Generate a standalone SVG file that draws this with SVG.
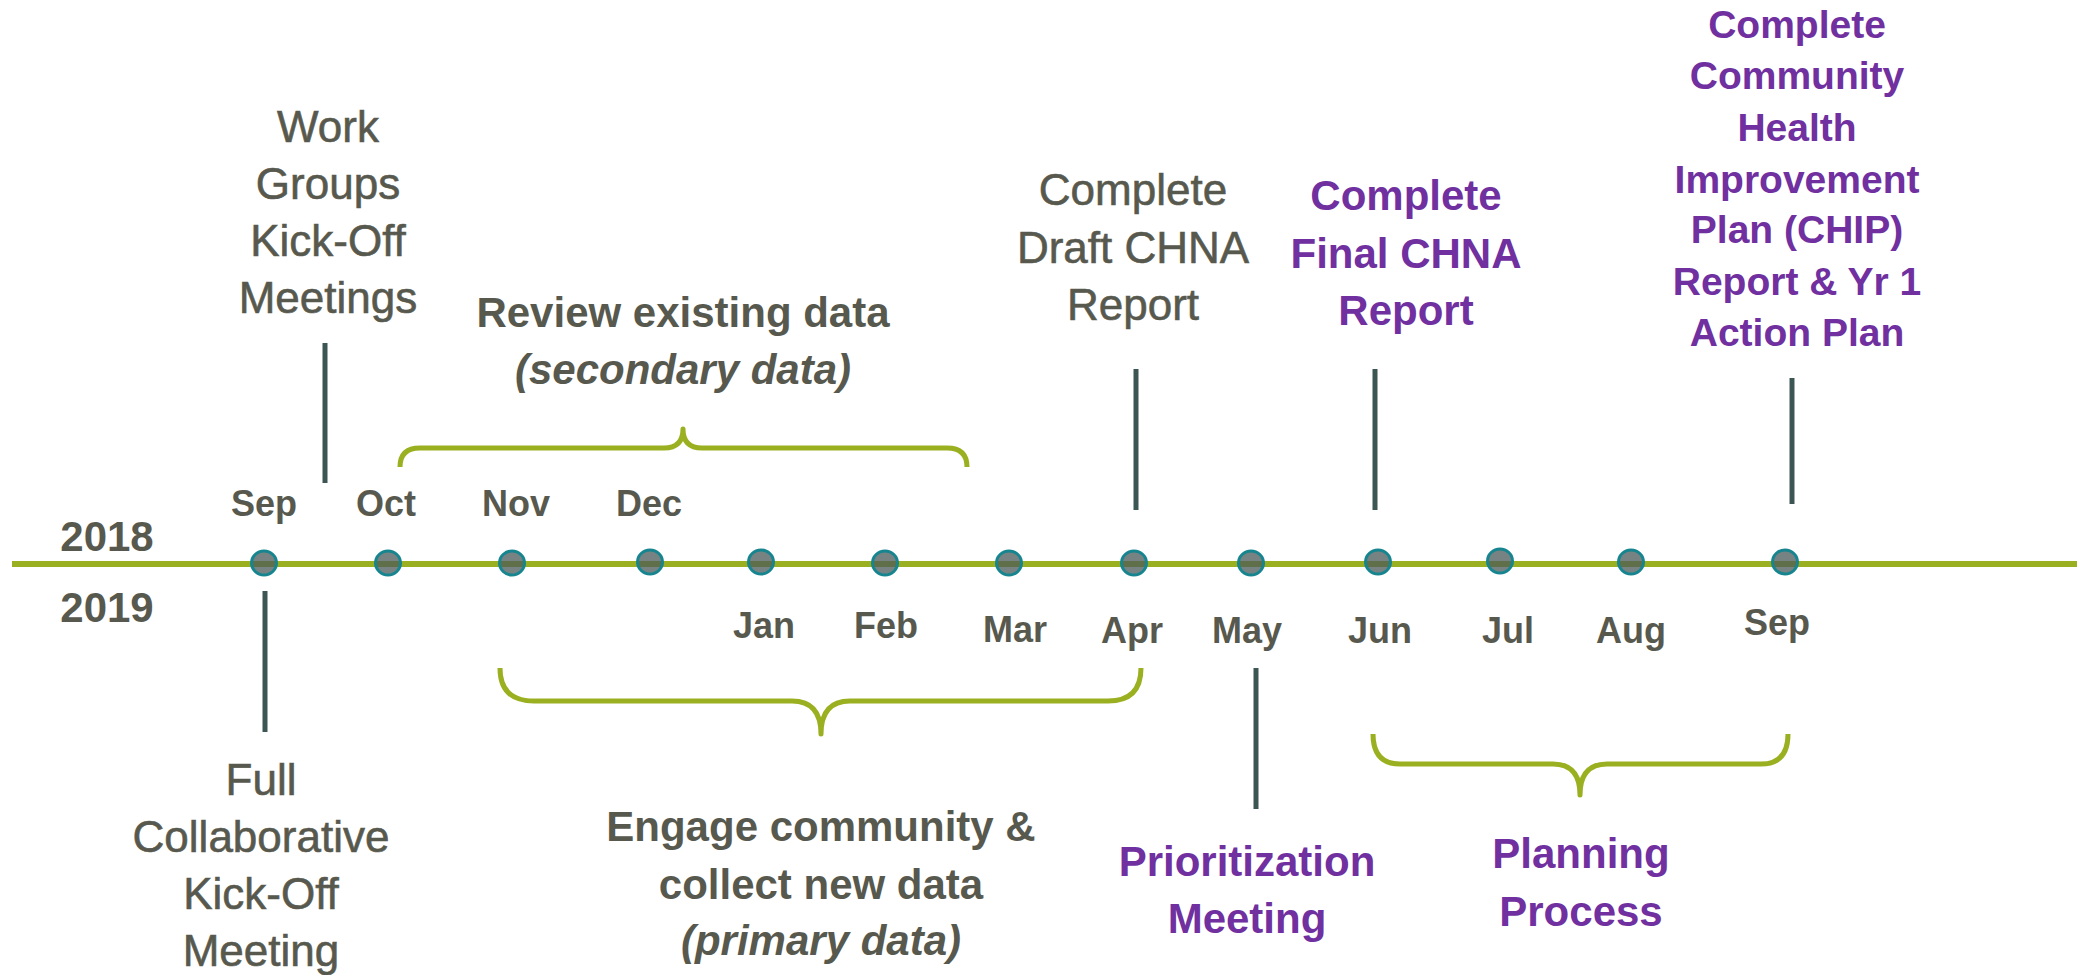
<svg xmlns="http://www.w3.org/2000/svg" width="2077" height="975" viewBox="0 0 2077 975">
<style>
text{font-family:"Liberation Sans",Arial,sans-serif;text-anchor:middle}
.g{fill:#58594e}
.p{fill:#7030a0;font-weight:bold}
.reg{font-size:44px;stroke:#58594e;stroke-width:0.6}
.b{font-weight:bold}
.mo{font-size:36px;font-weight:bold;fill:#58594e}
.yr{font-size:42px;font-weight:bold;fill:#58594e}
.dot{fill:#4a5a58;fill-opacity:0.75;stroke:#16858f;stroke-width:3}
.tick{stroke:#3c5654;stroke-width:5;fill:none}
.brace{stroke:#9bb020;stroke-width:5;fill:none;stroke-linejoin:round}
</style>
<rect width="2077" height="975" fill="#ffffff"/>
<g id="axis">
<line x1="12" y1="564" x2="2077" y2="564" stroke="#9bb020" stroke-width="6"/>
<text class="yr" x="107" y="551">2018</text>
<text class="yr" x="107" y="622">2019</text>
</g>
<g id="markers">
<ellipse class="dot" cx="264" cy="563" rx="12.5" ry="12"/>
<ellipse class="dot" cx="388" cy="563" rx="12.5" ry="12"/>
<ellipse class="dot" cx="512" cy="563" rx="12.5" ry="12"/>
<ellipse class="dot" cx="650" cy="562" rx="12.5" ry="12"/>
<ellipse class="dot" cx="761" cy="562" rx="12.5" ry="12"/>
<ellipse class="dot" cx="885" cy="563" rx="12.5" ry="12"/>
<ellipse class="dot" cx="1009" cy="563" rx="12.5" ry="12"/>
<ellipse class="dot" cx="1134" cy="563" rx="12.5" ry="12"/>
<ellipse class="dot" cx="1251" cy="563" rx="12.5" ry="12"/>
<ellipse class="dot" cx="1378" cy="562" rx="12.5" ry="12"/>
<ellipse class="dot" cx="1500" cy="561" rx="12.5" ry="12"/>
<ellipse class="dot" cx="1631" cy="562" rx="12.5" ry="12"/>
<ellipse class="dot" cx="1785" cy="562" rx="12.5" ry="12"/>
</g>
<g id="months">
<text class="mo" x="264" y="516">Sep</text>
<text class="mo" x="386" y="516">Oct</text>
<text class="mo" x="516" y="516">Nov</text>
<text class="mo" x="649" y="516">Dec</text>
<text class="mo" x="764" y="638">Jan</text>
<text class="mo" x="886" y="638">Feb</text>
<text class="mo" x="1015" y="642">Mar</text>
<text class="mo" x="1132" y="643">Apr</text>
<text class="mo" x="1247" y="643">May</text>
<text class="mo" x="1380" y="643">Jun</text>
<text class="mo" x="1508" y="643">Jul</text>
<text class="mo" x="1631" y="643">Aug</text>
<text class="mo" x="1777" y="635">Sep</text>
</g>
<g id="connectors">
<line class="tick" x1="325" y1="343" x2="325" y2="483"/>
<line class="tick" x1="265" y1="591" x2="265" y2="732"/>
<line class="tick" x1="1136" y1="369" x2="1136" y2="510"/>
<line class="tick" x1="1375" y1="369" x2="1375" y2="510"/>
<line class="tick" x1="1792" y1="378" x2="1792" y2="504"/>
<line class="tick" x1="1256" y1="668" x2="1256" y2="809"/>
<path class="brace" d="M 400 467 Q 400 448 420 448 L 664 448 Q 683 448 683 429 Q 683 448 702 448 L 947 448 Q 967 448 967 467"/>
<path class="brace" d="M 500 668 Q 500 701 534 701 L 792 701 Q 821 701 821 734 Q 821 701 850 701 L 1108 701 Q 1141 701 1141 668"/>
<path class="brace" d="M 1373 734 Q 1373 764 1400 764 L 1553 764 Q 1580 764 1580 795 Q 1580 764 1607 764 L 1761 764 Q 1788 764 1788 734"/>
</g>
<g id="work-groups">
<text class="g reg" x="328" y="142">Work</text>
<text class="g reg" x="328" y="199">Groups</text>
<text class="g reg" x="328" y="256">Kick-Off</text>
<text class="g reg" x="328" y="313">Meetings</text>
</g>
<g id="full-collaborative">
<text class="g reg" x="261" y="795">Full</text>
<text class="g reg" x="261" y="852">Collaborative</text>
<text class="g reg" x="261" y="909">Kick-Off</text>
<text class="g reg" x="261" y="966">Meeting</text>
</g>
<g id="review-data">
<text class="g b" font-size="42" x="683" y="327">Review existing data</text>
<text class="g b" font-size="42" x="683" y="384" font-style="italic">(secondary data)</text>
</g>
<g id="engage-community">
<text class="g b" font-size="42" x="821" y="841">Engage community &amp;</text>
<text class="g b" font-size="42" x="821" y="899">collect new data</text>
<text class="g b" font-size="42" x="821" y="955" font-style="italic">(primary data)</text>
</g>
<g id="draft-chna">
<text class="g reg" x="1133" y="205">Complete</text>
<text class="g reg" x="1133" y="263">Draft CHNA</text>
<text class="g reg" x="1133" y="320">Report</text>
</g>
<g id="final-chna">
<text class="p" font-size="42" x="1406" y="210">Complete</text>
<text class="p" font-size="42" x="1406" y="268">Final CHNA</text>
<text class="p" font-size="42" x="1406" y="325">Report</text>
</g>
<g id="chip">
<text class="p" font-size="39" x="1797" y="38">Complete</text>
<text class="p" font-size="39" x="1797" y="89">Community</text>
<text class="p" font-size="39" x="1797" y="141">Health</text>
<text class="p" font-size="39" x="1797" y="193">Improvement</text>
<text class="p" font-size="39" x="1797" y="243">Plan (CHIP)</text>
<text class="p" font-size="39" x="1797" y="295">Report &amp; Yr 1</text>
<text class="p" font-size="39" x="1797" y="346">Action Plan</text>
</g>
<g id="prioritization">
<text class="p" font-size="42" x="1247" y="876">Prioritization</text>
<text class="p" font-size="42" x="1247" y="933">Meeting</text>
</g>
<g id="planning">
<text class="p" font-size="42" x="1581" y="868">Planning</text>
<text class="p" font-size="42" x="1581" y="926">Process</text>
</g>
</svg>
